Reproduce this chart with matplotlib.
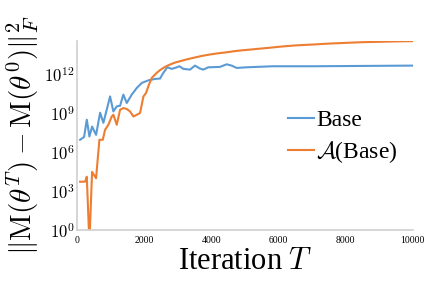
import matplotlib
matplotlib.use('Agg')
import matplotlib.pyplot as plt
import numpy as np

plt.rcParams['font.family'] = ['Liberation Serif', 'DejaVu Serif']
plt.rcParams['mathtext.fontset'] = 'cm'

# iterations and log10 of ||M(theta^T) - M(theta^0)||_F^2
base_it = [89, 208, 289, 366, 446, 565, 685, 783, 982, 1080, 1182, 1280, 1378, 1479,
           1628, 1777, 1926, 2122, 2321, 2470, 2568, 2688, 2818, 2917, 3045, 3164,
           3363, 3512, 3661, 3759, 3908, 4256, 4455, 4604, 4753, 5051, 5833, 7024, 10000]
base_log = [6.98, 7.2, 8.53, 7.23, 8.0, 7.36, 9.07, 8.29, 10.33, 9.17, 9.56, 9.61, 10.47, 9.82,
            10.47, 10.98, 11.37, 11.57, 11.68, 11.71, 12.15, 12.58, 12.46, 12.53, 12.66, 12.46,
            12.40, 12.71, 12.48, 12.40, 12.58, 12.61, 12.81, 12.71, 12.53, 12.58, 12.66, 12.66, 12.71]

abase_it = [89, 238, 289, 366, 446, 565, 664, 765, 833, 932, 1033, 1080, 1182, 1280, 1378,
            1479, 1577, 1676, 1777, 1875, 1976, 2054, 2122, 2223, 2372, 2470, 2568, 2670,
            2768, 2900, 3065, 3250, 3461, 3700, 3958, 4200, 4455, 4700, 4949, 5200, 5446,
            5700, 6033, 6500, 7024, 7500, 8015, 8500, 9009, 9500, 10000]
abase_log = [3.74, 3.74, 4.13, -1.0, 4.5, 4.01, 6.98, 6.98, 7.75, 8.14, 8.78, 8.91, 8.14, 9.30, 9.43,
             9.36, 9.17, 8.78, 8.91, 9.05, 10.33, 10.6, 11.11, 11.76, 12.15, 12.36, 12.53, 12.68,
             12.79, 12.93, 13.05, 13.18, 13.31, 13.45, 13.57, 13.66, 13.74, 13.83, 13.9, 13.96, 14.02,
             14.08, 14.17, 14.27, 14.34, 14.41, 14.47, 14.52, 14.55, 14.58, 14.6]

blue = '#5b9bd5'
orange = '#ed7d31'

fig = plt.figure(figsize=(4.26, 2.82), dpi=100)
ax = fig.add_axes([0.181, 0.184, 0.788, 0.671])

ax.plot(base_it, 10 ** np.array(base_log), color=blue, lw=1.5, label='Base')
ax.plot(abase_it, 10 ** np.array(abase_log), color=orange, lw=1.5,
        label=r'$\boldsymbol{\mathcal{A}}$(Base)')

ax.set_yscale('log')
ax.set_xlim(0, 10000)
ax.set_ylim(1, 10 ** 14.62)
ax.set_xticks([0, 2000, 4000, 6000, 8000, 10000])
ax.set_yticks([1e0, 1e3, 1e6, 1e9, 1e12])
ax.set_yticklabels([r'$10^{0}$', r'$10^{3}$', r'$10^{6}$', r'$10^{9}$', r'$10^{12}$'])
ax.minorticks_off()
ax.tick_params(axis='x', length=0, labelsize=7, pad=4)
ax.tick_params(axis='y', length=0, labelsize=12, pad=2)

for s in ['top', 'right']:
    ax.spines[s].set_visible(False)
for s in ['left', 'bottom']:
    ax.spines[s].set_color('#d0d0d0')
    ax.spines[s].set_linewidth(1.2)

ax.set_xlabel(r'Iteration $T$', fontsize=22, labelpad=2)
ax.set_ylabel(r'$\|\mathrm{M}(\theta^T) - \mathrm{M}(\theta^0)\|_F^2$', fontsize=21, labelpad=2)

ax.legend(loc='center left', bbox_to_anchor=(0.628, 0.489), frameon=False,
          fontsize=17, handlelength=1.1, handletextpad=0.1, borderpad=0,
          borderaxespad=0, labelspacing=0.35)

fig.savefig('out.png', dpi=100)
